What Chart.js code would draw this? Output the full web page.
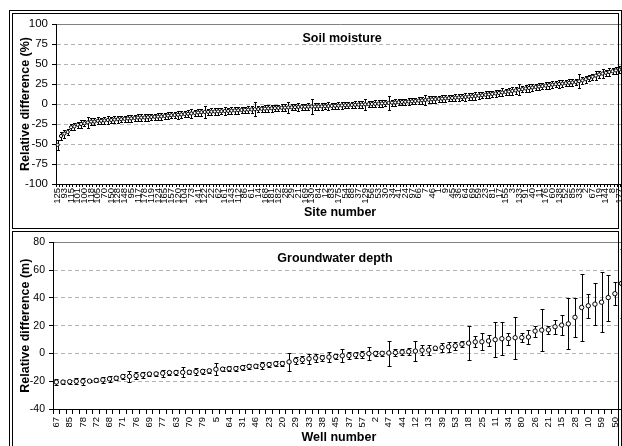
<!DOCTYPE html>
<html>
<head>
<meta charset="utf-8">
<script src="https://cdn.jsdelivr.net/npm/chart.js@4.4.1/dist/chart.umd.min.js"></script>
<style>
  html, body { margin: 0; padding: 0; background: #fff; overflow: hidden; }
  body { width: 622px; height: 446px; position: relative; }
  canvas { position: absolute; }
  #soilCanvas { left: 12px; top: 13px; }
  #wellCanvas { left: 12px; top: 232px; }
  .frame { position: absolute; pointer-events: none; box-sizing: border-box; z-index: 2; }
  #outer { left: 9px; top: 10px; width: 613px; height: 450px; border: 1.5px solid #000; border-bottom: none; }
  #panelTop { left: 12px; top: 13px; width: 607px; height: 216px; border: 1px solid #000; }
  #panelBottom { left: 12px; top: 231px; width: 607px; height: 230px; border: 1px solid #000; border-bottom: none; }
</style>
</head>
<body>
<canvas id="soilCanvas" width="623" height="215"></canvas>
<canvas id="wellCanvas" width="624" height="214"></canvas>
<div class="frame" id="outer"></div>
<div class="frame" id="panelTop"></div>
<div class="frame" id="panelBottom"></div>
<script>
// Soil moisture: sites ranked by mean relative difference (%)
const siteLabels = [
  125,5, 93,6, 115,10, 101,13, 100,15, 118,16, 105,18, 70,20, 150,25, 128,26,
  148,27, 95,31, 117,32, 178,35, 119,38, 124,39, 165,42, 157,43, 120,44, 104,47,
  73,48, 141,49, 122,50, 22,51, 62,55, 161,58, 143,63, 112,65, 86,68, 61,71,
  14,72, 168,74, 181,75, 182,76, 28,77, 29,78, 21,79, 169,80, 130,82, 84,87,
  12,89, 83,90, 175,92, 54,94, 88,96, 37,98, 129,99, 56,102, 53,103, 30,106,
  34,107, 41,108, 24,109, 97,110, 66,111, 7,113, 46,114, 1,116, 9,121, 45,123,
  36,126, 64,127, 69,131, 59,132, 23,134, 81,135, 17,136, 155,137, 3,139, 133,140,
  91,142, 40,145, 11,146, 176,147, 60,149, 138,151, 52,152, 85,153, 33,154, 2,156,
  67,158, 19,159, 144,160, 8,162, 177,163
];
const soilDiff = [
  -51, -40, -37, -35, -29, -28, -26, -25, -24, -23, -22, -22, -21, -21, -20.5, -20, -20, -19.5, -19, -19,
  -18.5, -18, -18, -17.5, -17, -17, -16.8, -16.5, -16.2, -16, -15.8, -15.5, -15, -14.5, -14, -13.8, -13.5, -13, -12.6, -12.2,
  -11.8, -11.2, -10.6, -10.2, -10, -9.8, -9.6, -9.4, -9.2, -9, -8.8, -8.6, -8.3, -8, -7.8, -7.5, -7.2, -7, -6.8, -6.5,
  -6.3, -6, -5.8, -5.5, -5.3, -5.1, -4.9, -4.7, -4.5, -4.3, -4.1, -3.9, -3.7, -3.5, -3.4, -3.3, -3.2, -3.1, -3, -2.9,
  -2.8, -2.6, -2.4, -2.2, -2, -1.8, -1.6, -1.4, -1.2, -1, -0.8, -0.6, -0.4, -0.2, 0, 0.2, 0.4, 0.7, 1, 1.3,
  1.6, 1.9, 2.2, 2.5, 2.8, 3.1, 3.4, 3.8, 4.2, 4.6, 5, 5.4, 5.8, 6.1, 6.4, 6.7, 7, 7.3, 7.6, 7.9,
  8.2, 8.5, 8.8, 9.2, 9.6, 10, 10.5, 11, 11.5, 12, 12.6, 13.2, 13.8, 14.4, 15, 15.6, 16.3, 17, 17.8, 18.6,
  19.4, 20, 20.6, 21.2, 21.8, 22.4, 23, 23.6, 24.2, 24.8, 25, 25.5, 26, 26.5, 27, 27.5, 28.5, 29.5, 31, 32.5,
  34, 35.5, 37, 38, 39, 40, 41, 42, 43, 45
];
const soilErr = [
  6.5, 5, 5, 4, 4, 4, 4, 4.5, 4, 7, 4, 4, 4.5, 4, 4, 4.5, 4, 4, 4.5, 4,
  4, 4.5, 4, 4, 4.5, 4, 4, 4.5, 4, 4, 4.5, 4, 4, 4.5, 4, 4, 5, 4, 4, 4.5,
  6, 4, 4, 4.5, 7, 4, 4, 4.5, 4, 4, 4.5, 4, 4, 4, 4.5, 4, 4, 4.5, 4, 9,
  4, 4, 4.5, 4, 4.5, 4, 4, 4.5, 4, 7, 4, 4, 4.5, 4, 4, 4, 9, 4, 4.5, 4,
  4, 4.5, 4, 4, 4, 4.5, 4, 4, 4, 4.5, 4, 4, 7, 4, 4, 4.5, 4, 4, 4, 9,
  4, 4.5, 4, 4, 4, 4.5, 4, 4, 4.5, 4, 6, 4, 4, 4.5, 4, 4, 4.5, 4, 4, 4.5,
  4, 4, 4.5, 4, 4, 4.5, 4, 4, 4.5, 4, 4, 4.5, 4, 5, 4, 4, 4.5, 4, 7, 4,
  4, 4.5, 4, 4, 4.5, 4, 4, 4.5, 4, 4, 4.5, 4, 4, 4.5, 4, 4, 9, 4, 4.5, 4,
  4, 6, 4.5, 6, 4, 4.5, 4, 4.5, 4, 4.5
];

// Groundwater depth: wells ranked by mean relative difference (m)
const wellLabels = [
  67,1, 85,3, 78,4, 72,6, 68,7, 71,8, 76,9, 69,14, 77,16, 63,17,
  70,19, 79,22, 5,24, 64,27, 31,30, 46,32, 23,35, 20,36, 29,40, 33,41,
  38,42, 45,43, 37,48, 57,49, 2,51, 47,52, 44,54, 12,55, 13,56, 39,58,
  53,60, 18,61, 25,62, 11,65, 34,66, 80,73, 26,74, 21,75, 15,81, 28,82,
  10,83, 59,84, 50,86
];
const gwDiff = [
  -20.6, -20.6, -20.3, -20, -20, -19.9, -19.4, -19, -18.3, -17.8,
  -16.6, -16.5, -16, -15.4, -14.8, -14.7, -14.2, -13.8, -13.7, -13.6,
  -13.5, -13, -12.9, -12.5, -11.4, -11.3, -11, -10.9, -10.2, -9.3,
  -9.2, -8.5, -8, -7.4, -7.3, -6.1, -5, -4.5, -3.8, -3.3,
  -3.1, -2.6, -2.2, -1.7, -1.5, -1, -0.8, -0.1, 0, 0.1,
  0.3, 0.6, 1, 1.3, 1.7, 2.3, 2.4, 3.8, 4.3, 4.8,
  5.5, 6.7, 7.4, 8.3, 8.4, 9, 9.9, 10.6, 10.7, 11.3,
  11.4, 11.8, 16.1, 16.8, 17, 19.2, 20.4, 21.3, 26, 33.1,
  34.3, 35.5, 36.9, 40.2, 43, 50.4
];
const gwErr = [
  2, 1.5, 1.5, 2, 2.5, 1, 1.5, 2, 2, 1.5,
  2, 3.8, 2.5, 2, 1.5, 1.5, 2.5, 1.5, 1.5, 3.5,
  1.5, 2.5, 2, 1.5, 4.4, 1.5, 2, 1.5, 2, 2,
  1.5, 2.5, 2, 2, 1.5, 6.4, 2.5, 2.5, 3.5, 3,
  2, 3.5, 2, 4.8, 2.5, 2, 2.5, 4.5, 2, 2,
  9, 2.5, 2, 2.5, 7, 3.5, 3.5, 1, 3, 3.5,
  3, 2, 12.4, 4, 6, 4, 12.5, 12, 4.3, 15,
  3, 5.3, 4, 15, 3, 5, 7, 18.4, 14, 24,
  8.7, 15, 21.5, 16.5, 8.3, 25
];

const FONT = "'Liberation Sans', Arial, sans-serif";
Chart.defaults.font.family = FONT;
Chart.defaults.color = '#000';

// +/- error bars, placed through the chart's own scales
const errorBars = {
  id: 'errorBars',
  beforeDatasetsDraw(chart, args, opts) {
    const ctx = chart.ctx;
    const xs = chart.scales.x, ys = chart.scales.y;
    const ds = chart.data.datasets[0];
    ctx.save();
    ctx.strokeStyle = '#000';
    ctx.lineWidth = 1;
    ds.data.forEach((v, i) => {
      const e = ds.errors[i];
      const x = Math.round(xs.getPixelForValue(i)) + 0.5;
      const yTop = Math.round(ys.getPixelForValue(v + e)) + 0.5;
      const yBot = Math.round(ys.getPixelForValue(v - e)) + 0.5;
      ctx.beginPath();
      ctx.moveTo(x, yTop); ctx.lineTo(x, yBot);
      ctx.moveTo(x - opts.cap, yTop); ctx.lineTo(x + opts.cap, yTop);
      ctx.moveTo(x - opts.cap, yBot); ctx.lineTo(x + opts.cap, yBot);
      ctx.stroke();
    });
    ctx.restore();
  }
};

// panel caption written inside the plot area
const panelTitle = {
  id: 'panelTitle',
  afterDraw(chart, args, opts) {
    const {ctx, chartArea} = chart;
    ctx.save();
    ctx.font = 'bold 12.5px ' + FONT;
    ctx.fillStyle = '#000';
    ctx.textAlign = 'center';
    ctx.textBaseline = 'middle';
    ctx.fillText(opts.text, (chartArea.left + chartArea.right) / 2 + opts.dx, chartArea.top + opts.dy);
    ctx.restore();
  }
};

function buildPanel(id, p) {
  return new Chart(document.getElementById(id), {
    type: 'line',
    data: {
      labels: p.labels,
      datasets: [{
        data: p.values,
        errors: p.errors,
        showLine: false,
        pointRadius: p.pointRadius,
        pointBorderWidth: 1,
        pointBackgroundColor: '#fff',
        pointBorderColor: '#000'
      }]
    },
    plugins: [errorBars, panelTitle],
    options: {
      responsive: false,
      animation: false,
      devicePixelRatio: 1,
      layout: { padding: { top: p.padTop, right: 2, bottom: 0, left: 0 } },
      plugins: {
        legend: { display: false },
        tooltip: { enabled: false },
        errorBars: { cap: p.cap },
        panelTitle: { text: p.title, dx: p.titleDx, dy: p.titleDy }
      },
      scales: {
        x: {
          type: 'category',
          offset: true,
          grid: { offset: true, drawOnChartArea: false, tickLength: p.xTickLen, tickColor: '#000' },
          border: { color: '#000', width: 1 },
          ticks: {
            autoSkip: false, minRotation: 90, maxRotation: 90,
            padding: p.xTickPad, font: { size: p.xFont },
            callback(v, i) { return i % 2 === 0 ? this.getLabelForValue(v) : ''; }
          },
          title: { display: true, text: p.xTitle, font: { size: 12.5, weight: 'bold' }, padding: { top: 0, bottom: p.xTitlePad } },
          afterFit(axis) { axis.height = p.xHeight; }
        },
        xTop: {
          type: 'category',
          position: 'top',
          grid: { display: false, drawTicks: false },
          ticks: { display: false },
          border: { display: true, color: '#808080', width: 1 },
          afterFit(axis) { axis.height = 0; }
        },
        y: {
          min: p.yMin, max: p.yMax,
          ticks: { stepSize: p.yStep, padding: 4, font: { size: p.yFont } },
          grid: {
            color: (c) => (c.tick && (c.tick.value === p.yMin || c.tick.value === p.yMax)) ? 'rgba(0,0,0,0)' : '#b3b3b3',
            tickColor: '#000', tickLength: 4
          },
          border: { color: '#000', width: 1, dash: [4, 3] },
          title: { display: true, text: p.yTitle, font: { size: 12.5, weight: 'bold' }, padding: { top: p.yTitlePad, bottom: 0 } },
          afterFit(axis) { axis.width = p.yWidth; }
        }
      }
    }
  });
}

buildPanel('soilCanvas', {
  labels: siteLabels, values: soilDiff, errors: soilErr,
  pointRadius: 1.6, cap: 1.5, padTop: 11,
  title: 'Soil moisture', titleDx: 2, titleDy: 15,
  xTitle: 'Site number', xFont: 9.5, xTickLen: 3, xTickPad: 1, xTitlePad: 7.5, xHeight: 44,
  yMin: -100, yMax: 100, yStep: 25, yFont: 11.5,
  yTitle: 'Relative difference (%)', yTitlePad: 6.5, yWidth: 44
});

buildPanel('wellCanvas', {
  labels: wellLabels, values: gwDiff, errors: gwErr,
  pointRadius: 2.2, cap: 2, padTop: 8,
  title: 'Groundwater depth', titleDx: -4, titleDy: 16,
  xTitle: 'Well number', xFont: 9.5, xTickLen: 5, xTickPad: 3, xTitlePad: 1.2, xHeight: 37,
  yMin: -40, yMax: 80, yStep: 20, yFont: 10.5,
  yTitle: 'Relative difference (m)', yTitlePad: 6, yWidth: 41
});
</script>
</body>
</html>
